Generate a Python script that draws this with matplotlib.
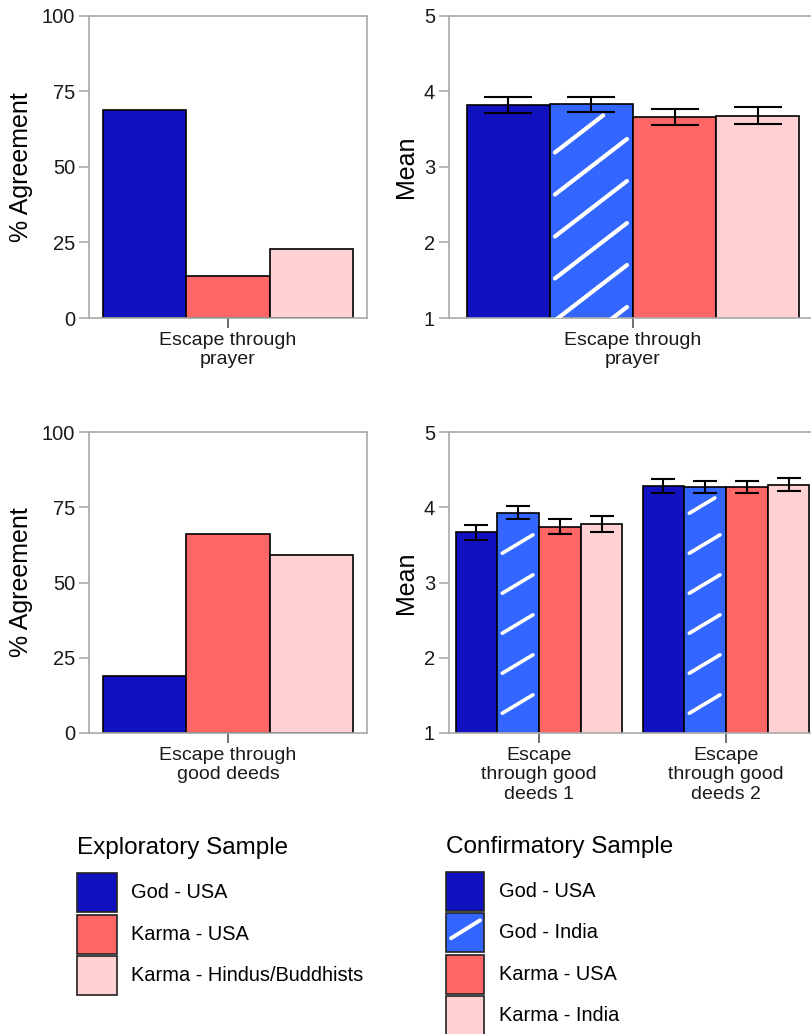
import numpy as np
import matplotlib.pyplot as plt
from matplotlib.patches import Rectangle

plt.rcParams['font.family'] = ['Liberation Sans', 'DejaVu Sans']

W, H = 812, 1034
DPI = 100

# exploratory sample (% agreement)
expl_groups = ['God - USA', 'Karma - USA', 'Karma - Hindus/Buddhists']
expl_prayer = [69, 14, 23]
expl_deeds = [19, 66, 59]

# confirmatory sample (means +- error)
conf_groups = ['God - USA', 'God - India', 'Karma - USA', 'Karma - India']
conf_prayer = [3.82, 3.83, 3.66, 3.68]
conf_prayer_err = [0.11, 0.10, 0.11, 0.11]
conf_deeds1 = [3.67, 3.93, 3.74, 3.78]
conf_deeds1_err = [0.10, 0.09, 0.10, 0.11]
conf_deeds2 = [4.28, 4.27, 4.27, 4.30]
conf_deeds2_err = [0.09, 0.08, 0.08, 0.09]

expl_colors = ['#1111BF', '#FF6666', '#FFD1D3']
conf_colors = ['#1111BF', '#3366FF', '#FF6666', '#FFD1D3']
conf_hatched = [False, True, False, False]

SPINE = '#A9A9A9'


def px_axes(fig, left, top, right, bottom):
    return fig.add_axes([left / W, 1 - bottom / H, (right - left) / W, (bottom - top) / H])


def style_axes(ax):
    for s in ax.spines.values():
        s.set_color(SPINE)
        s.set_linewidth(1.2)
    ax.tick_params(axis='y', colors=SPINE, labelcolor='#1a1a1a', labelsize=14.5,
                   length=7, width=1.2, pad=3)
    ax.tick_params(axis='x', colors='#555555', labelcolor='#1a1a1a', labelsize=14,
                   length=7, width=1.2, pad=3)


def slash_bar(ax, rect, spacing, slope, phase, inset=(5, 6, 11, 5), lw=2.6):
    # white diagonal strokes inside one bar, laid out in pixel space
    (x0, y0), (x1, y1) = ax.transData.transform(
        [(rect.get_x(), rect.get_y()),
         (rect.get_x() + rect.get_width(), rect.get_y() + rect.get_height())])
    l, r = x0 + inset[0], x1 - inset[1]
    b, t = y0 + inset[3], y1 - inset[2]
    inv = ax.transData.inverted()
    k0 = -int((r - l) * slope / spacing) - 1
    for k in range(k0, 200):
        c = b + phase + k * spacing
        if c > t:
            break
        xs, ys = l, c
        if ys < b:
            xs, ys = l + (b - c) / slope, b
        xe, ye = r, c + slope * (r - l)
        if ye > t:
            xe, ye = l + (t - c) / slope, t
        if xs >= xe:
            continue
        pts = inv.transform([(xs, ys), (xe, ye)])
        ax.plot(pts[:, 0], pts[:, 1], color='white', lw=lw,
                solid_capstyle='round', zorder=3)


def expl_panel(ax, vals, label):
    w = 0.3
    xs = (np.arange(len(vals)) - 1) * w
    ax.bar(xs, vals, width=w, color=expl_colors, edgecolor='black', linewidth=1.2, zorder=2)
    ax.set_xlim(-0.5, 0.5)
    ax.set_ylim(0, 100)
    ax.set_yticks([0, 25, 50, 75, 100])
    ax.set_xticks([0])
    ax.set_xticklabels([label])
    ax.set_ylabel('% Agreement', fontsize=18)
    ax.yaxis.set_label_coords((33 - 89) / 278, 0.5)
    style_axes(ax)


def conf_panel(ax, series, errs, labels, w, capsize, spacing, slope, phase, lw, x_lo, x_hi, ax_w):
    ax.set_xlim(x_lo, x_hi)
    ax.set_ylim(1, 5)
    for g, (vals, err) in enumerate(zip(series, errs)):
        xs = g + (np.arange(len(vals)) - 1.5) * w
        bars = ax.bar(xs, vals, width=w, bottom=0, color=conf_colors,
                      edgecolor='black', linewidth=1.2, zorder=2)
        for rect, h in zip(bars, conf_hatched):
            if h:
                slash_bar(ax, rect, spacing, slope, phase, lw=lw)
        ax.errorbar(xs, vals, yerr=err, fmt='none', ecolor='black', elinewidth=1.5,
                    capsize=capsize, capthick=1.5, zorder=4)
    ax.set_yticks([1, 2, 3, 4, 5])
    ax.set_xticks(np.arange(len(series)))
    ax.set_xticklabels(labels)
    ax.set_ylabel('Mean', fontsize=18)
    ax.yaxis.set_label_coords((418 - 449) / ax_w, 0.5)
    style_axes(ax)


fig = plt.figure(figsize=(W / DPI, H / DPI), dpi=DPI)

ax1 = px_axes(fig, 89, 16, 367, 318)
expl_panel(ax1, expl_prayer, 'Escape through\nprayer')

ax3 = px_axes(fig, 89, 432, 367, 733)
expl_panel(ax3, expl_deeds, 'Escape through\ngood deeds')

ax2 = px_axes(fig, 449, 16, 817, 318)
conf_panel(ax2, [conf_prayer], [conf_prayer_err], ['Escape through\nprayer'],
           0.2, 17, 42, 0.77, 26, 3.0, -0.443, 0.443, 368)

ax4 = px_axes(fig, 449, 432, 816, 733)
conf_panel(ax4, [conf_deeds1, conf_deeds2], [conf_deeds1_err, conf_deeds2_err],
           ['Escape\nthrough good\ndeeds 1', 'Escape\nthrough good\ndeeds 2'],
           0.223, 8.5, 40, 0.6, 10, 2.6, -0.481, 1.481, 367)

# legends, drawn in a pixel-space overlay
lax = fig.add_axes([0, 0, 1, 1], zorder=-1)
lax.set_xlim(0, W)
lax.set_ylim(H, 0)
lax.axis('off')

lax.text(77, 848, 'Exploratory Sample', fontsize=17.5, va='center', ha='left')
for i, (lab, col) in enumerate(zip(expl_groups, expl_colors)):
    top = 873 + i * 41.5
    lax.add_patch(Rectangle((77, top), 40, 39, facecolor=col, edgecolor='#222222', lw=1.2))
    lax.text(131, top + 19.5, lab, fontsize=14.4, va='center', ha='left')

lax.text(446, 847, 'Confirmatory Sample', fontsize=17.5, va='center', ha='left')
for i, (lab, col, h) in enumerate(zip(conf_groups, conf_colors, conf_hatched)):
    top = 872 + i * 41.3
    lax.add_patch(Rectangle((446, top), 38, 39, facecolor=col, edgecolor='#222222', lw=1.2))
    if h:
        lax.plot([451, 480], [top + 25, top + 7], color='white', lw=2.8, solid_capstyle='round')
    lax.text(499, top + 19.5, lab, fontsize=14.4, va='center', ha='left')

fig.savefig('out.png', dpi=DPI)
